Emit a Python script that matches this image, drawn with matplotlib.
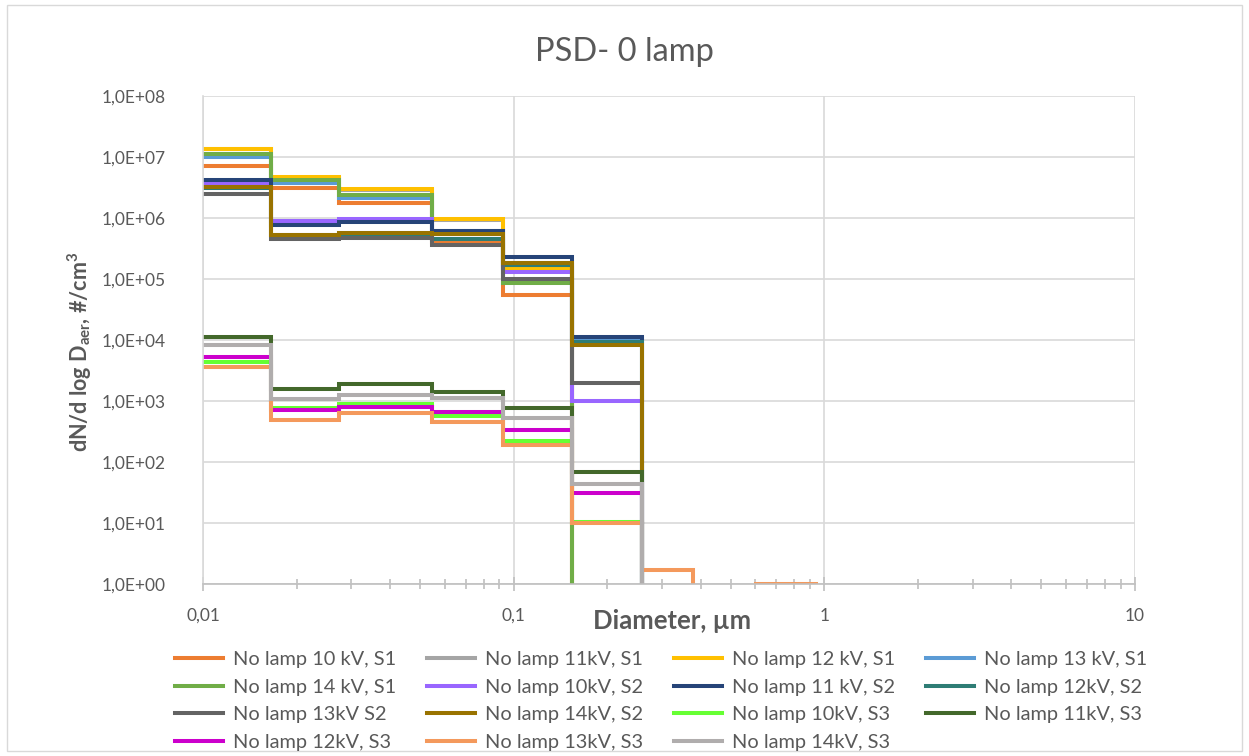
import numpy as np
import matplotlib
matplotlib.use("Agg")
import matplotlib.pyplot as plt
from matplotlib.ticker import FixedLocator, FuncFormatter, NullFormatter
from matplotlib.patches import Rectangle

plt.rcParams['font.family'] = ['Lato', 'DejaVu Sans']
plt.rcParams['mathtext.fontset'] = 'custom'
plt.rcParams['mathtext.rm'] = 'Lato'
plt.rcParams['mathtext.bf'] = 'Lato:bold'

# ---- data ----
edges = [0.01, 0.0165, 0.0274, 0.0545, 0.0922, 0.154, 0.258, 0.379, 0.603, 0.942]

labels = ["No lamp 10 kV, S1", "No lamp 11kV, S1", "No lamp 12 kV, S1", "No lamp 13 kV, S1",
          "No lamp 14 kV, S1", "No lamp 10kV, S2", "No lamp 11 kV, S2", "No lamp 12kV, S2",
          "No lamp 13kV S2", "No lamp 14kV, S2", "No lamp 10kV, S3", "No lamp 11kV, S3",
          "No lamp 12kV, S3", "No lamp 13kV, S3", "No lamp 14kV, S3"]

s1_10 = [7.2e6, 3.07e6, 1.74e6, 4.0e5, 5.5e4, 0, 0, 0, 0]
s1_11 = [1.33e7, 4.6e6, 2.86e6, 9.2e5, 1.45e5, 0, 0, 0, 0]
s1_12 = [1.37e7, 4.75e6, 2.95e6, 9.5e5, 1.5e5, 0, 0, 0, 0]
s1_13 = [9.9e6, 3.7e6, 2.1e6, 4.6e5, 1.7e5, 1.05e4, 0, 0, 0]
s1_14 = [1.12e7, 4.2e6, 2.38e6, 6.2e5, 8.5e4, 0, 0, 0, 0]
s2_10 = [3.8e6, 9.0e5, 9.5e5, 5.4e5, 1.32e5, 1.0e3, 0, 0, 0]
s2_11 = [4.2e6, 7.7e5, 8.7e5, 6.2e5, 2.32e5, 1.1e4, 0, 0, 0]
s2_12 = [3.1e6, 5.3e5, 5.5e5, 4.5e5, 1.7e5, 9.4e3, 0, 0, 0]
s2_13 = [2.46e6, 4.6e5, 4.65e5, 3.6e5, 1.0e5, 2.0e3, 0, 0, 0]
s2_14 = [3.25e6, 5.2e5, 5.75e5, 5.4e5, 1.85e5, 8.3e3, 0, 0, 0]
s3_10 = [4.4e3, 7.6e2, 8.9e2, 5.75e2, 2.2e2, 10.5, 0, 0, 0]
s3_11 = [1.13e4, 1.55e3, 1.9e3, 1.42e3, 7.6e2, 69, 0, 0, 0]
s3_12 = [5.2e3, 7.0e2, 8.1e2, 6.5e2, 3.3e2, 30.7, 0, 0, 0]
s3_13 = [3.66e3, 4.8e2, 6.3e2, 4.45e2, 1.92e2, 10.1, 1.7, 0, 1.0]
s3_14 = [8.3e3, 1.08e3, 1.25e3, 1.1e3, 5.3e2, 43.6, 0, 0, 0]

series = [s1_10, s1_11, s1_12, s1_13, s1_14, s2_10, s2_11, s2_12, s2_13, s2_14,
          s3_10, s3_11, s3_12, s3_13, s3_14]

colors = ["#ED7D31", "#A5A5A5", "#FFC000", "#5B9BD5", "#70AD47", "#9966FF", "#264478",
          "#2E7D75", "#636363", "#997300", "#66FF33", "#43682B", "#CC00CC", "#F4995C", "#B0ADAD"]

y_ticks = [1e0, 1e1, 1e2, 1e3, 1e4, 1e5, 1e6, 1e7, 1e8]
x_ticks = [0.01, 0.1, 1, 10]
x_ticklabels = ["0,01", "0,1", "1", "10"]

# ---- figure ----
fig = plt.figure(figsize=(12.49, 7.56), dpi=100)
fig.patches.append(Rectangle((0.006, 0.006), 0.988, 0.988, transform=fig.transFigure,
                             fill=False, edgecolor="#D9D9D9", linewidth=1.0))
ax = fig.add_axes([203/1249, 1-584/756, (1135-203)/1249, (584-96)/756])

handles = []
for vals, col, lab in zip(series, colors, labels):
    v = np.array(vals + [0.0, 0.0], dtype=float)
    v = np.where(v > 0, v, 1e-3)
    e = np.array(edges + [1.5])
    h, = ax.step(e, v, where='post', color=col, lw=2.9, label=lab, solid_joinstyle='miter')
    handles.append(h)

ax.set_xscale('log')
ax.set_yscale('log')
ax.set_xlim(0.01, 10)
ax.set_ylim(1, 1e8)

ax.xaxis.set_major_locator(FixedLocator(x_ticks))
ax.xaxis.set_major_formatter(FuncFormatter(lambda x, p: x_ticklabels[p] if p is not None and p < len(x_ticklabels) else ""))
minors = [m * d for d in [0.01, 0.1, 1] for m in range(2, 10)]
ax.xaxis.set_minor_locator(FixedLocator(minors))
ax.xaxis.set_minor_formatter(NullFormatter())
ax.yaxis.set_major_locator(FixedLocator(y_ticks))
ax.yaxis.set_major_formatter(FuncFormatter(lambda y, p: "1,0E+%02d" % int(round(np.log10(y)))))
ax.yaxis.set_minor_locator(FixedLocator([]))

ax.grid(True, which='major', color="#D9D9D9", lw=1.2)
ax.set_axisbelow(True)
for s in ['top', 'right']:
    ax.spines[s].set_visible(False)
ax.spines['left'].set_color("#D9D9D9")
ax.spines['left'].set_linewidth(1.2)
ax.spines['bottom'].set_color("#BFBFBF")
ax.spines['bottom'].set_linewidth(1.2)

ax.tick_params(axis='y', length=0, pad=27, labelsize=12.5, labelcolor="#595959")
ax.tick_params(axis='x', which='major', direction='inout', length=10, width=1.2,
               color="#BFBFBF", labelsize=12.5, labelcolor="#595959", pad=12)
ax.tick_params(axis='x', which='minor', direction='inout', length=7, width=1.2, color="#BFBFBF")

fig.text(672/1249, 1-621/756, "Diameter, µm", ha='center', va='center', fontsize=18.5,
         fontweight='bold', color="#595959")
ax.set_ylabel(r"dN/d log D$_{\mathbf{aer}}$, #/cm$^{\mathbf{3}}$", fontsize=15.5,
              fontweight='bold', color="#595959")
ax.yaxis.set_label_coords(-0.117, 0.475)

fig.text(0.5, 1-52/756, "PSD- 0 lamp", ha='center', va='center', fontsize=23.5, color="#595959")

# legend: row-major order in reference, matplotlib fills column-major
order = [0, 4, 8, 12, 1, 5, 9, 13, 2, 6, 10, 14, 3, 7, 11]
leg = fig.legend([handles[i] for i in order], [labels[i] for i in order],
                 loc='center', bbox_to_anchor=(661/1249, 1-701/756), ncol=4, frameon=False,
                 fontsize=14.4, handlelength=2.4, handletextpad=0.5, columnspacing=1.55,
                 labelspacing=0.52, labelcolor="#595959", borderaxespad=0, borderpad=0)

fig.savefig("out.png", dpi=100)
